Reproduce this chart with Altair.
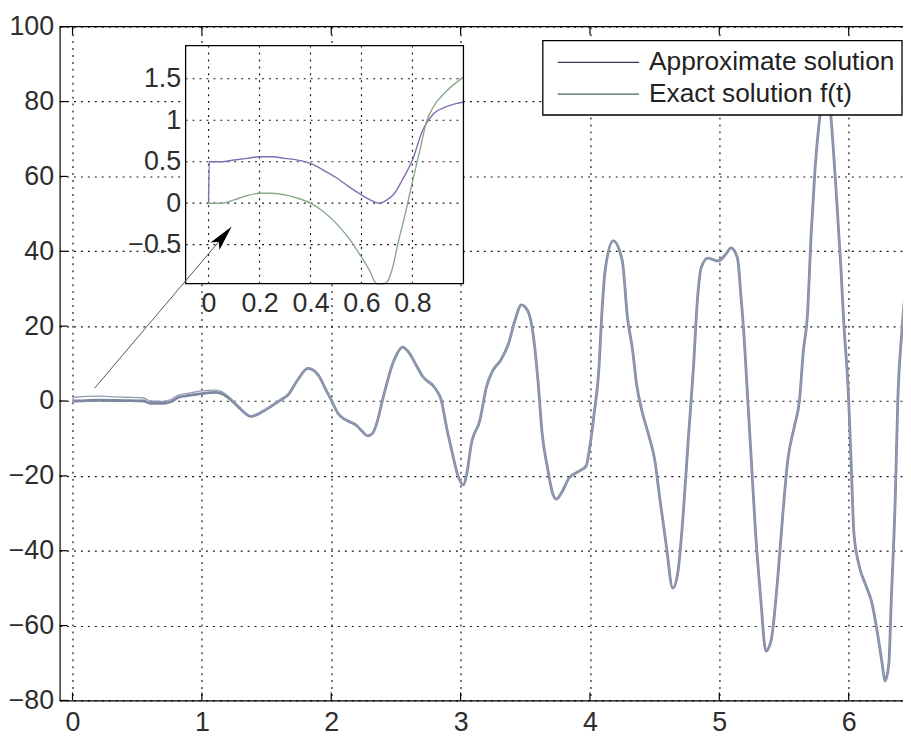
import math
import altair as alt
import pandas as pd

# ---------------- data ----------------
main_t = [0.0, 0.01, 0.2, 0.4, 0.55, 0.6, 0.7, 0.76, 0.82, 0.9,
          1.0, 1.1, 1.15, 1.2, 1.28, 1.38, 1.49, 1.61, 1.665, 1.74,
          1.82, 1.9, 1.96, 2.0, 2.05, 2.11, 2.19, 2.24, 2.28, 2.32,
          2.36, 2.39, 2.43, 2.47, 2.51, 2.55, 2.6, 2.65, 2.71, 2.79,
          2.82, 2.85, 2.89, 2.93, 2.98, 3.02, 3.05, 3.08, 3.15, 3.2,
          3.25, 3.31, 3.37, 3.42, 3.47, 3.52, 3.56, 3.6, 3.63, 3.67,
          3.71, 3.74, 3.78, 3.84, 3.92, 3.97, 4.0, 4.03, 4.07, 4.09,
          4.12, 4.18, 4.25, 4.29, 4.33, 4.36, 4.4, 4.45, 4.5, 4.54,
          4.59, 4.64, 4.68, 4.72, 4.76, 4.8, 4.83, 4.86, 4.91, 4.99,
          5.05, 5.09, 5.14, 5.17, 5.19, 5.22, 5.25, 5.28, 5.32, 5.36,
          5.4, 5.45, 5.49, 5.53, 5.58, 5.62, 5.65, 5.68, 5.71, 5.74,
          5.78, 5.82, 5.86, 5.9, 5.94, 5.96, 6.0, 6.02, 6.04, 6.08,
          6.13, 6.18, 6.22, 6.26, 6.28, 6.31, 6.33, 6.36, 6.38, 6.41,
          6.43, 6.46]
main_exact = [0, 0, 0.2, 0.1, 0, -0.6, -0.6, -0.2, 1.0, 1.5,
              2.0, 2.3, 2.0, 1.0, -1.5, -4.1, -2.4, 0.3, 1.6, 5.6,
              8.7, 6.9, 2.9, 0.3, -3.2, -5.0, -6.4, -8.1, -9.3, -8.6,
              -5.0, -0.6, 4.7, 9.5, 12.7, 14.4, 13.0, 10.0, 6.4, 4.0,
              2.5, 0.3, -6.8, -13, -20, -22.4, -19, -12, -5, 3.8,
              8.2, 10.9, 15.3, 21.5, 25.7, 24, 18, 4.7, -8.6, -17.5,
              -24.5, -26.2, -24.5, -20.5, -18.7, -17.4, -12, -4, 9, 22.3,
              35.6, 42.8, 37.4, 22.3, 13.5, 4.6, -2.4, -8.6, -15.6, -26,
              -38.6, -50, -45.6, -30.6, -10.3, 9, 26.7, 35.6, 38.2, 37.4,
              39.2, 40.9, 38.2, 26.8, 18, 0.3, -17.4, -35, -52.7, -66.8,
              -64, -48, -30.6, -15.6, -6.8, 0.3, 13.5, 22.3, 44.5, 62,
              77, 86, 77, 57.7, 35.6, 22.3, 0.3, -17.4, -35, -43.9,
              -49, -54, -61.5, -70.4, -74.8, -70.4, -52.7, -26.2, 0.3, 18,
              26.8, 38]
main_approx = [0, 1.0, 1.3, 1.0, 0.8, 0.0, -0.1, 0.4, 1.6, 2.1,
               2.7, 2.9, 2.6, 1.4, -1.2, -4.0, -2.3, 0.4, 1.7, 5.6,
               8.7, 6.9, 2.9, 0.3, -3.2, -5.0, -6.4, -8.1, -9.3, -8.6,
               -5.0, -0.6, 4.7, 9.5, 12.7, 14.4, 13.0, 10.0, 6.4, 4.0,
               2.5, 0.3, -6.8, -13, -20, -22.4, -19, -12, -5, 3.8,
               8.2, 10.9, 15.3, 21.5, 25.7, 24, 18, 4.7, -8.6, -17.5,
               -24.5, -26.2, -24.5, -20.5, -18.7, -17.4, -12, -4, 9, 22.3,
               35.6, 42.8, 37.4, 22.3, 13.5, 4.6, -2.4, -8.6, -15.6, -26,
               -38.6, -50, -45.6, -30.6, -10.3, 9, 26.7, 35.6, 38.2, 37.4,
               39.2, 40.9, 38.2, 26.8, 18, 0.3, -17.4, -35, -52.7, -66.8,
               -64, -48, -30.6, -15.6, -6.8, 0.3, 13.5, 22.3, 44.5, 62,
               77, 86, 77, 57.7, 35.6, 22.3, 0.3, -17.4, -35, -43.9,
               -49, -54, -61.5, -70.4, -74.8, -70.4, -52.7, -26.2, 0.3, 18,
               26.8, 38]

inset_t_approx = [0, 0.003, 0.05, 0.1, 0.15, 0.2, 0.25, 0.3, 0.35, 0.4,
                  0.45, 0.5, 0.55, 0.6, 0.64, 0.667, 0.7, 0.73, 0.76, 0.8,
                  0.84, 0.88, 0.93, 0.97, 1.0]
inset_approx = [0, 0.5, 0.5, 0.52, 0.54, 0.56, 0.56, 0.54, 0.52, 0.48,
                0.40, 0.31, 0.2, 0.1, 0.03, 0.0, 0.04, 0.12, 0.28, 0.52,
                0.88, 1.07, 1.16, 1.2, 1.22]
inset_t_exact = [0, 0.05, 0.1, 0.15, 0.2, 0.25, 0.3, 0.35, 0.4, 0.45,
                 0.5, 0.55, 0.6, 0.63, 0.66, 0.68, 0.70, 0.72, 0.745, 0.77,
                 0.8, 0.83, 0.855, 0.88, 0.93, 0.97, 1.0]
inset_exact = [0, 0.0, 0.04, 0.09, 0.12, 0.12, 0.1, 0.06, 0.0, -0.1,
               -0.24, -0.42, -0.65, -0.8, -1.02, -1.05, -0.95, -0.8, -0.46, -0.15,
               0.26, 0.65, 0.98, 1.15, 1.34, 1.45, 1.52]

main_xticks = [0, 1, 2, 3, 4, 5, 6]
main_yticks = [-80, -60, -40, -20, 0, 20, 40, 60, 80, 100]
inset_xticks = [0, 0.2, 0.4, 0.6, 0.8]
inset_yticks = [-0.5, 0, 0.5, 1, 1.5]
legend_labels = ["Approximate solution", "Exact solution f(t)"]
arrow_t = [0.17, 1.166]
arrow_y = [3.4, 44.0]

main_xdom = [-0.1, 6.42]
main_ydom = [-80, 100]
inset_xdom = [-0.09, 1.0]
inset_ydom = [-0.97, 1.9]

# ---------------- layout / style ----------------
W, H = 850, 679
FONT = "Liberation Sans"
LBL = "#2e2e2e"
FS = 27
INSET_X = [127, 407]   # inset position inside the plot area (px)
INSET_Y = [259, 19]
DASH = [2, 5]


def xs_main():
    return alt.Scale(domain=main_xdom, nice=False, zero=False)


def ys_main():
    return alt.Scale(domain=main_ydom, nice=False, zero=False)


def xs_in():
    return alt.Scale(domain=inset_xdom, range=INSET_X, nice=False, zero=False)


def ys_in():
    return alt.Scale(domain=inset_ydom, range=INSET_Y, nice=False, zero=False, clamp=True)


grid_kw = dict(grid=True, gridColor="black", gridDash=DASH, gridWidth=1.2, gridOpacity=0.9)
lab_kw = dict(labelFont=FONT, labelFontSize=FS, labelColor=LBL, labelFlush=False,
              labelOverlap=False, labelBound=False, title=None, ticks=False)

x_axis_main = alt.Axis(orient="bottom", values=main_xticks, format="d", domain=True,
                       domainColor="black", domainWidth=1.2, labelPadding=9,
                       **grid_kw, **lab_kw)
y_axis_main = alt.Axis(orient="left", values=main_yticks, format="d", domain=True,
                       domainColor="black", domainWidth=1.2, labelPadding=6,
                       **grid_kw, **lab_kw)

x_axis_in = alt.Axis(orient="bottom", offset=-(H - INSET_Y[0]), values=inset_xticks,
                     format=".1~f", domain=False, grid=False, labelPadding=7, **lab_kw)
y_axis_in = alt.Axis(orient="left", offset=-INSET_X[0], values=inset_yticks,
                     format=".1~f", domain=False, grid=False, labelPadding=5, **lab_kw)

one = pd.DataFrame({"a": [0]})

# ---------------- main plot ----------------
df_main = pd.DataFrame({"t": main_t, "exact": main_exact, "approx": main_approx})
curve_exact = alt.Chart(df_main).mark_line(
    color="#7d889e", strokeWidth=2.8, clip=True, interpolate="monotone"
).encode(
    x=alt.X("t:Q", scale=xs_main(), axis=x_axis_main),
    y=alt.Y("exact:Q", scale=ys_main(), axis=y_axis_main),
)
curve_approx = alt.Chart(df_main).mark_line(
    color="#939cb6", strokeWidth=1.3, clip=True, interpolate="monotone"
).encode(
    x=alt.X("t:Q", scale=xs_main(), axis=None),
    y=alt.Y("approx:Q", scale=ys_main(), axis=None),
)

df_xt = pd.DataFrame({"v": main_xticks})
df_yt = pd.DataFrame({"v": main_yticks})
bottom_ticks = alt.Chart(df_xt).mark_rule(color="black", strokeWidth=1.2).encode(
    x=alt.X("v:Q", scale=xs_main(), axis=None), y=alt.value(H), y2=alt.value(H - 8))
top_ticks = alt.Chart(df_xt).mark_rule(color="black", strokeWidth=1.2).encode(
    x=alt.X("v:Q", scale=xs_main(), axis=None), y=alt.value(0), y2=alt.value(8))
left_ticks = alt.Chart(df_yt).mark_rule(color="black", strokeWidth=1.2).encode(
    y=alt.Y("v:Q", scale=ys_main(), axis=None), x=alt.value(0), x2=alt.value(8))
top_border = alt.Chart(one).mark_rule(color="black", strokeWidth=1.2).encode(
    x=alt.value(0), x2=alt.value(W), y=alt.value(0))

# ---------------- inset ----------------
df_box = pd.DataFrame({"x0": [inset_xdom[0]], "x1": [inset_xdom[1]],
                       "y0": [inset_ydom[0]], "y1": [inset_ydom[1]]})
inset_bg = alt.Chart(df_box).mark_rect(fill="white").encode(
    x=alt.X("x0:Q", scale=xs_in(), axis=None), x2="x1:Q",
    y=alt.Y("y0:Q", scale=ys_in(), axis=None), y2="y1:Q")
inset_border = alt.Chart(df_box).mark_rect(filled=False, stroke="black", strokeWidth=1.3).encode(
    x=alt.X("x0:Q", scale=xs_in(), axis=None), x2="x1:Q",
    y=alt.Y("y0:Q", scale=ys_in(), axis=None), y2="y1:Q")

inset_vgrid = alt.Chart(pd.DataFrame({"v": inset_xticks})).mark_rule(
    color="black", strokeWidth=1.2, strokeDash=DASH, opacity=0.9
).encode(x=alt.X("v:Q", scale=xs_in(), axis=None),
         y=alt.value(INSET_Y[1]), y2=alt.value(INSET_Y[0]))
inset_hgrid = alt.Chart(pd.DataFrame({"v": inset_yticks})).mark_rule(
    color="black", strokeWidth=1.2, strokeDash=DASH, opacity=0.9
).encode(y=alt.Y("v:Q", scale=ys_in(), axis=None),
         x=alt.value(INSET_X[0]), x2=alt.value(INSET_X[1]))

df_ia = pd.DataFrame({"t": inset_t_approx, "y": inset_approx})
df_ie = pd.DataFrame({"t": inset_t_exact, "y": inset_exact})
inset_approx_line = alt.Chart(df_ia).mark_line(
    color="#7e6fb3", strokeWidth=1.4, interpolate="monotone").encode(
    x=alt.X("t:Q", scale=xs_in(), axis=x_axis_in),
    y=alt.Y("y:Q", scale=ys_in(), axis=y_axis_in))
inset_exact_line = alt.Chart(df_ie).mark_line(
    color="#88a988", strokeWidth=1.4, interpolate="monotone").encode(
    x=alt.X("t:Q", scale=xs_in(), axis=None),
    y=alt.Y("y:Q", scale=ys_in(), axis=None))

# ---------------- overlay: arrow + legend ----------------
px_t = W / (main_xdom[1] - main_xdom[0])
px_y = H / (main_ydom[1] - main_ydom[0])
ang = math.degrees(math.atan2((arrow_t[1] - arrow_t[0]) * px_t,
                              (arrow_y[1] - arrow_y[0]) * px_y))
df_arrow = pd.DataFrame({"t": arrow_t, "y": arrow_y})
arrow_line = alt.Chart(df_arrow).mark_line(color="#555555", strokeWidth=1).encode(
    x=alt.X("t:Q", scale=xs_main(), axis=None), y=alt.Y("y:Q", scale=ys_main(), axis=None))
ARROW_PATH = "M0,-1 L0.45,1 L0,0.55 L-0.45,1 Z"
arrow_head = alt.Chart(df_arrow.iloc[[1]]).mark_point(
    shape=ARROW_PATH, size=676, angle=ang, filled=True, color="black", opacity=1
).encode(x=alt.X("t:Q", scale=xs_main(), axis=None), y=alt.Y("y:Q", scale=ys_main(), axis=None))

LEG = dict(x0=487, x1=849, y0=14, y1=89, lx0=502, lx1=584, tx=594, rows=[36, 68])
leg_box = alt.Chart(one).mark_rect(fill="white", stroke="black", strokeWidth=1.3).encode(
    x=alt.value(LEG["x0"]), x2=alt.value(LEG["x1"]),
    y=alt.value(LEG["y0"]), y2=alt.value(LEG["y1"]))
leg_colors = ["#3a3563", "#3f6d4e"]
leg_items = []
for lab, col, ry in zip(legend_labels, leg_colors, LEG["rows"]):
    leg_items.append(alt.Chart(one).mark_rule(color=col, strokeWidth=1.4).encode(
        x=alt.value(LEG["lx0"]), x2=alt.value(LEG["lx1"]), y=alt.value(ry)))
    leg_items.append(alt.Chart(one).mark_text(
        text=lab, align="left", baseline="middle", font=FONT, fontSize=26.5, color="#222222"
    ).encode(x=alt.value(LEG["tx"]), y=alt.value(ry)))

chart = alt.layer(
    curve_exact, curve_approx, bottom_ticks, top_ticks, left_ticks, top_border,
    inset_bg, inset_vgrid, inset_hgrid, inset_approx_line, inset_exact_line, inset_border,
    arrow_line, arrow_head, leg_box, *leg_items
).resolve_scale(
    x="independent", y="independent"
).properties(
    width=W, height=H,
    autosize=alt.AutoSizeParams(type="none"),
    padding={"left": 52, "top": 16, "right": 0, "bottom": 34},
    background="white",
).configure_view(stroke=None)

chart.save("out.html", embed_options={"renderer": "svg", "actions": False})
